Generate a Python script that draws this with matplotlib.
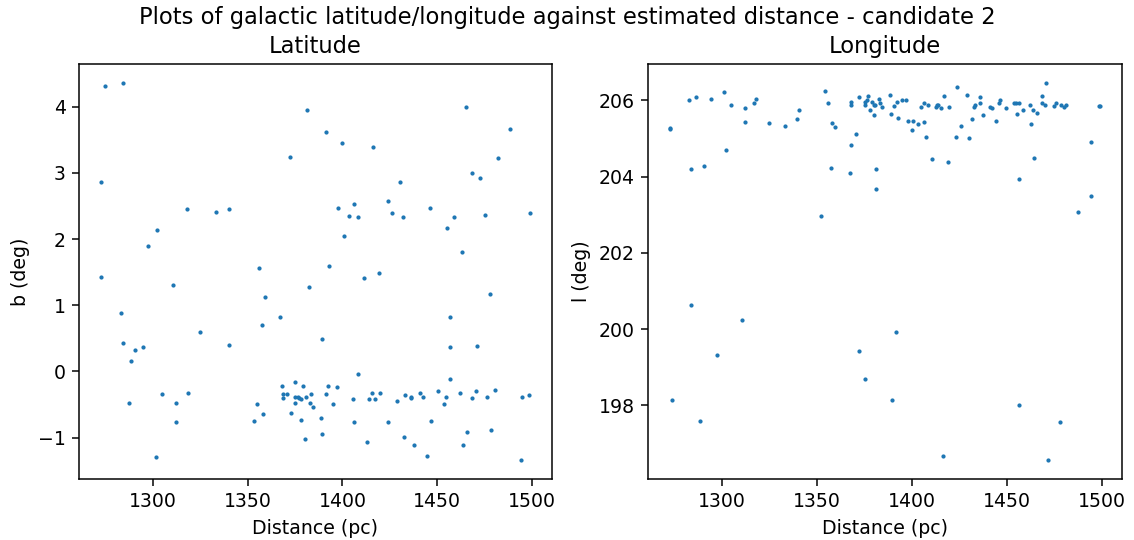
import matplotlib
matplotlib.use("Agg")
import matplotlib.pyplot as plt

# Latitude panel: distance (pc) and galactic latitude b (deg)
dist_b = [
    1274.4, 1284.3, 1272.2, 1317.7, 1333.3, 1340.3, 1302.0, 1297.1, 1356.0, 1381.5,
    1372.4, 1465.3, 1488.7, 1391.5, 1399.9, 1416.3, 1482.2, 1468.7, 1472.4, 1430.4,
    1424.0, 1397.8, 1406.3, 1403.5, 1408.4, 1426.2, 1432.0, 1446.0, 1458.9, 1455.3,
    1475.2, 1499.3, 1400.6, 1463.1, 1392.9, 1272.2, 1310.4, 1359.3, 1382.2, 1282.9,
    1367.2, 1357.4, 1284.3, 1324.7, 1340.3, 1290.6, 1294.8, 1288.5, 1287.1, 1304.9,
    1311.9, 1318.4, 1311.9, 1301.3, 1367.9, 1375.0, 1379.4, 1368.7, 1370.8, 1368.7,
    1375.0, 1376.4, 1377.1, 1378.0, 1375.0, 1380.8, 1383.6, 1382.9, 1384.3, 1354.6,
    1358.1, 1353.2, 1373.0, 1378.0, 1380.1, 1411.2, 1419.1, 1478.0, 1456.7, 1389.2,
    1456.7, 1471.0, 1408.4, 1456.7, 1392.2, 1397.2, 1391.5, 1395.0, 1405.6, 1414.0,
    1417.0, 1415.6, 1419.8, 1429.0, 1433.3, 1436.2, 1436.2, 1441.1, 1442.5, 1450.4,
    1454.6, 1453.9, 1462.3, 1468.7, 1470.3, 1476.6, 1480.8, 1495.0, 1498.6, 1388.5,
    1389.2, 1406.3, 1424.0, 1412.8, 1432.6, 1437.6, 1444.6, 1446.9, 1465.9, 1463.8,
    1478.7, 1494.4,
]
lat_b = [
    4.32, 4.36, 2.86, 2.45, 2.41, 2.45, 2.14, 1.90, 1.56, 3.95,
    3.24, 4.00, 3.67, 3.61, 3.45, 3.39, 3.22, 3.00, 2.92, 2.86,
    2.57, 2.47, 2.53, 2.35, 2.33, 2.39, 2.33, 2.47, 2.33, 2.16,
    2.37, 2.39, 2.04, 1.80, 1.59, 1.42, 1.31, 1.13, 1.27, 0.88,
    0.82, 0.70, 0.43, 0.60, 0.40, 0.33, 0.37, 0.15, -0.47, -0.34,
    -0.47, -0.32, -0.77, -1.30, -0.22, -0.16, -0.22, -0.34, -0.34, -0.40,
    -0.38, -0.38, -0.40, -0.42, -0.47, -0.38, -0.34, -0.47, -0.53, -0.49,
    -0.65, -0.75, -0.63, -0.73, -1.02, 1.41, 1.49, 1.17, 0.82, 0.49,
    0.37, 0.39, -0.04, -0.12, -0.22, -0.24, -0.34, -0.49, -0.42, -0.42,
    -0.42, -0.32, -0.32, -0.44, -0.36, -0.38, -0.40, -0.32, -0.38, -0.30,
    -0.38, -0.49, -0.32, -0.40, -0.30, -0.38, -0.28, -0.38, -0.36, -0.71,
    -0.95, -0.77, -0.77, -1.06, -0.99, -1.11, -1.28, -0.75, -0.91, -1.11,
    -0.89, -1.34,
]

# Longitude panel: distance (pc) and galactic longitude l (deg)
dist_l = [
    1272.4, 1272.6, 1282.9, 1286.5, 1294.2, 1301.2, 1304.9, 1311.9, 1316.9, 1318.2,
    1311.9, 1324.8, 1333.2, 1339.7, 1340.4, 1283.7, 1290.7, 1301.9, 1354.4, 1355.8,
    1357.9, 1359.3, 1357.2, 1352.3, 1368.0, 1368.0, 1372.2, 1377.1, 1375.1, 1375.1,
    1376.4, 1377.8, 1379.9, 1380.6, 1379.9, 1370.8, 1368.0, 1367.2, 1381.3, 1381.3,
    1382.7, 1379.2, 1383.4, 1384.1, 1388.5, 1390.8, 1392.2, 1389.2, 1392.9, 1394.8,
    1396.9, 1397.8, 1400.6, 1399.9, 1403.4, 1406.2, 1404.8, 1406.2, 1408.3, 1407.6,
    1412.5, 1413.3, 1414.0, 1415.4, 1416.8, 1419.8, 1410.4, 1419.1, 1424.0, 1423.3,
    1426.1, 1428.9, 1430.3, 1431.7, 1432.6, 1433.3, 1436.1, 1436.1, 1437.5, 1441.0,
    1442.4, 1444.5, 1445.9, 1446.6, 1449.4, 1453.6, 1455.1, 1456.6, 1455.2, 1458.7,
    1462.3, 1463.6, 1465.8, 1463.0, 1464.4, 1456.6, 1468.6, 1468.6, 1470.0, 1470.9,
    1475.1, 1475.8, 1478.6, 1480.0, 1481.4, 1487.7, 1494.2, 1494.2, 1498.3, 1499.3,
    1283.7, 1310.7, 1297.2, 1273.7, 1288.6, 1372.2, 1375.1, 1391.5, 1389.4, 1416.2,
    1456.6, 1477.9, 1471.6,
]
lon_l = [
    205.28, 205.25, 206.00, 206.08, 206.04, 206.22, 205.89, 205.79, 205.93, 206.03,
    205.44, 205.40, 205.33, 205.51, 205.75, 204.19, 204.27, 204.69, 206.25, 205.93,
    205.40, 205.29, 204.23, 202.96, 205.96, 205.89, 206.08, 206.11, 205.96, 205.89,
    206.00, 205.75, 205.89, 205.89, 205.61, 205.11, 204.83, 204.09, 204.19, 203.67,
    206.03, 205.96, 205.93, 205.82, 206.14, 205.86, 205.96, 205.65, 205.54, 206.00,
    206.00, 205.47, 205.47, 205.22, 205.37, 205.44, 205.82, 205.93, 205.89, 205.04,
    205.82, 205.89, 205.89, 205.79, 206.11, 205.82, 204.45, 204.37, 206.35, 205.04,
    205.33, 206.14, 205.01, 205.51, 205.82, 205.89, 206.08, 205.93, 205.61, 205.82,
    205.79, 205.47, 205.93, 206.01, 205.79, 205.93, 205.93, 205.93, 205.65, 205.75,
    205.89, 205.75, 205.68, 205.37, 204.48, 203.95, 206.11, 205.93, 205.89, 206.46,
    205.86, 205.93, 205.89, 205.82, 205.89, 203.07, 204.90, 203.49, 205.86, 205.86,
    200.62, 200.23, 199.31, 198.15, 197.58, 199.43, 198.68, 199.92, 198.15, 196.66,
    198.01, 197.55, 196.56,
]


def main() -> None:
    # reference looks like a figure rendered at a higher dpi, so scale up text
    dpi = 136
    fig = plt.figure(figsize=(1134 / dpi, 540 / dpi), dpi=dpi)
    ax_b = fig.add_axes([0.0697, 0.113, 0.417, 0.7685])
    ax_l = fig.add_axes([0.5714, 0.113, 0.418, 0.7685])

    ax_b.scatter(dist_b, lat_b, s=1.5)
    ax_b.set_title("Latitude")
    ax_b.set_xlabel("Distance (pc)")
    ax_b.set_ylabel("b (deg)")

    ax_l.scatter(dist_l, lon_l, s=1.5)
    ax_l.set_title("Longitude")
    ax_l.set_xlabel("Distance (pc)")
    ax_l.set_ylabel("l (deg)")

    fig.suptitle(
        "Plots of galactic latitude/longitude against estimated distance - candidate 2",
        y=0.988,
    )

    fig.savefig("out.png", dpi=dpi)
    plt.close(fig)


if __name__ == "__main__":
    main()
